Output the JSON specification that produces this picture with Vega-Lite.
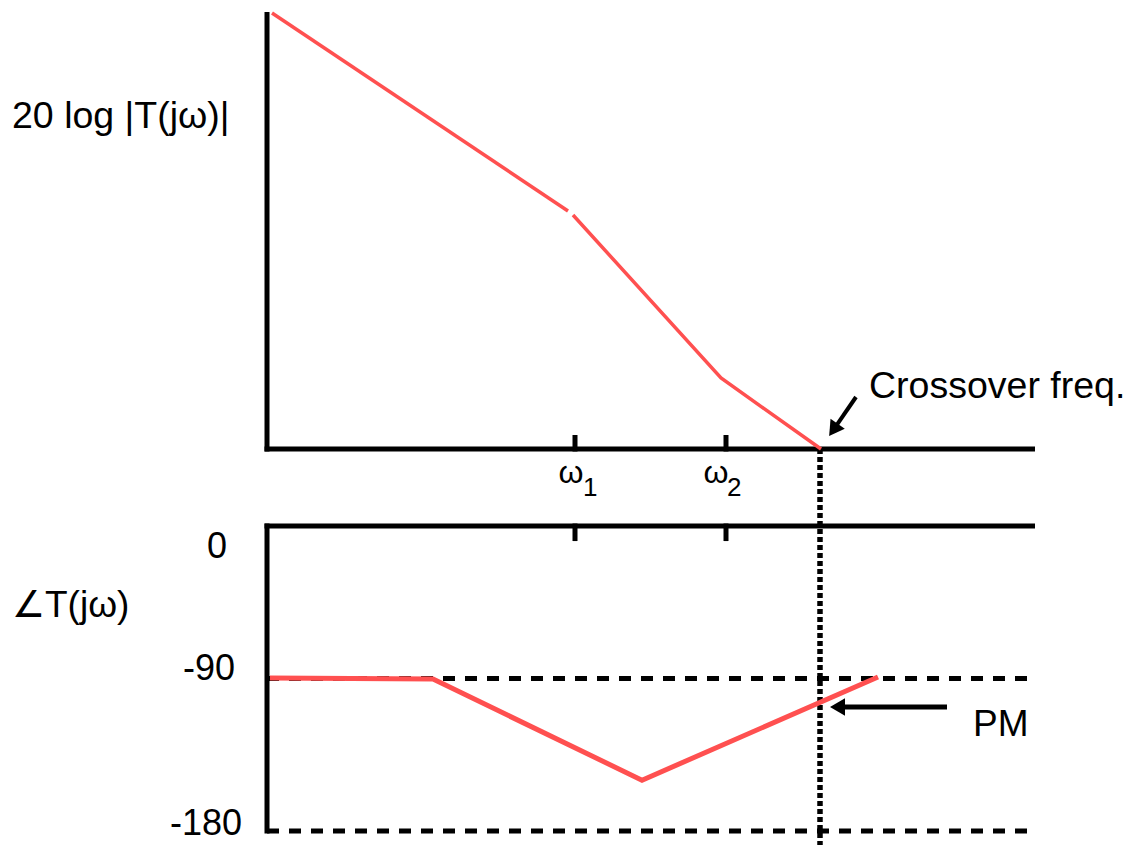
{
  "$schema": "https://vega.github.io/schema/vega-lite/v6.json",
  "width": 1133,
  "height": 848,
  "autosize": {"type": "fit", "contains": "padding"},
  "padding": 0,
  "background": "white",
  "config": {"view": {"stroke": null}, "text": {"font": "Liberation Sans", "baseline": "alphabetic", "color": "black"}},
  "datasets": {
    "magVertical": [
      {"kind": "axis", "w": 0, "db": 0, "db2": 43.45},
      {"kind": "tick", "w": 3.08, "db": 0, "db2": 1.15},
      {"kind": "tick", "w": 4.59, "db": 0, "db2": 1.15},
      {"kind": "crossover", "w": 5.53, "db": 0, "db2": -39.6}
    ],
    "magHorizontal": [
      {"kind": "axis", "w": 0, "w2": 7.655, "db": 0}
    ],
    "magnitude": [
      {"seg": "low", "w": 0.05, "db": 43.6},
      {"seg": "low", "w": 3.01, "db": 23.8},
      {"seg": "mid", "w": 3.06, "db": 23.4},
      {"seg": "mid", "w": 4.54, "db": 7.1},
      {"seg": "mid", "w": 5.54, "db": 0}
    ],
    "magArrow": [
      {"w": 5.89, "w2": 5.664, "db": 5.2, "db2": 1.91}
    ],
    "magText": [
      {"role": "title", "w": -2.55, "db": 32.1, "label": "20 log |T(jω)|"},
      {"role": "callout", "w": 6.02, "db": 5.1, "label": "Crossover freq."},
      {"role": "freq", "w": 3.04, "db": -3.4, "label": "ω"},
      {"role": "freq", "w": 4.49, "db": -3.4, "label": "ω"},
      {"role": "index", "w": 3.16, "db": -4.7, "label": "1"},
      {"role": "index", "w": 4.6, "db": -4.7, "label": "2"}
    ],
    "phaseVertical": [
      {"kind": "axis", "w": 0, "deg": 0, "deg2": -180},
      {"kind": "tick", "w": 3.08, "deg": 0, "deg2": -7.4},
      {"kind": "tick", "w": 4.59, "deg": 0, "deg2": -7.4}
    ],
    "phaseHorizontal": [
      {"kind": "axis", "w": 0, "w2": 7.655, "deg": 0},
      {"kind": "reference", "w": 0, "w2": 7.68, "deg": -90},
      {"kind": "reference", "w": 0, "w2": 7.68, "deg": -180}
    ],
    "phase": [
      {"w": 0.03, "deg": -89.7},
      {"w": 1.66, "deg": -90.3},
      {"w": 3.75, "deg": -150},
      {"w": 6.11, "deg": -89.1}
    ],
    "pmArrow": [
      {"w": 6.8, "w2": 5.705, "deg": -106.8}
    ],
    "phaseText": [
      {"role": "title", "w": -2.55, "deg": -53.7, "label": "∠T(jω)"},
      {"role": "value", "w": -0.4, "deg": -18.9, "label": "0"},
      {"role": "value", "w": -0.32, "deg": -90.9, "label": "-90"},
      {"role": "value", "w": -0.25, "deg": -182.4, "label": "-180"},
      {"role": "callout", "w": 7.06, "deg": -123.9, "label": "PM"}
    ]
  },
  "layer": [
    {
      "encoding": {
        "x": {"field": "w", "type": "quantitative", "scale": {"domain": [-2.67, 8.66], "nice": false, "zero": false}, "axis": null},
        "y": {"field": "db", "type": "quantitative", "scale": {"domain": [-39.9, 44.9], "nice": false, "zero": false}, "axis": null}
      },
      "layer": [
        {
          "data": {"name": "magVertical"},
          "transform": [{"filter": "datum.kind !== 'crossover'"}],
          "mark": {"type": "rule", "color": "black", "strokeWidth": 5, "strokeCap": "square"},
          "encoding": {"y2": {"field": "db2"}}
        },
        {
          "data": {"name": "magVertical"},
          "transform": [{"filter": "datum.kind === 'crossover'"}],
          "mark": {"type": "rule", "color": "black", "strokeWidth": 5.5, "strokeDash": [5, 3]},
          "encoding": {"y2": {"field": "db2"}}
        },
        {
          "data": {"name": "magHorizontal"},
          "mark": {"type": "rule", "color": "black", "strokeWidth": 5, "strokeCap": "square"},
          "encoding": {"x2": {"field": "w2"}}
        },
        {
          "data": {"name": "magnitude"},
          "mark": {"type": "line", "color": "#ff5050", "strokeWidth": 3.5},
          "encoding": {"detail": {"field": "seg"}, "order": {"field": "w", "type": "quantitative"}}
        },
        {
          "data": {"name": "magArrow"},
          "mark": {"type": "rule", "color": "black", "strokeWidth": 4},
          "encoding": {"x2": {"field": "w2"}, "y2": {"field": "db2"}}
        },
        {
          "data": {"name": "magArrow"},
          "mark": {"type": "point", "shape": "triangle-down", "angle": 34.7, "size": 300, "filled": true, "color": "black", "opacity": 1},
          "encoding": {"x": {"field": "w2", "type": "quantitative"}, "y": {"field": "db2", "type": "quantitative"}}
        },
        {
          "data": {"name": "magText"},
          "transform": [{"filter": "datum.role === 'title' || datum.role === 'callout'"}],
          "mark": {"type": "text", "align": "left", "fontSize": 37.5},
          "encoding": {"text": {"field": "label"}}
        },
        {
          "data": {"name": "magText"},
          "transform": [{"filter": "datum.role === 'freq'"}],
          "mark": {"type": "text", "align": "center", "fontSize": 32},
          "encoding": {"text": {"field": "label"}}
        },
        {
          "data": {"name": "magText"},
          "transform": [{"filter": "datum.role === 'index'"}],
          "mark": {"type": "text", "align": "left", "fontSize": 26},
          "encoding": {"text": {"field": "label"}}
        }
      ]
    },
    {
      "encoding": {
        "x": {"field": "w", "type": "quantitative", "scale": {"domain": [-2.67, 8.66], "nice": false, "zero": false}, "axis": null},
        "y": {"field": "deg", "type": "quantitative", "scale": {"domain": [-190.0, 310.4], "nice": false, "zero": false}, "axis": null}
      },
      "layer": [
        {
          "data": {"name": "phaseVertical"},
          "mark": {"type": "rule", "color": "black", "strokeWidth": 5, "strokeCap": "square"},
          "encoding": {"y2": {"field": "deg2"}}
        },
        {
          "data": {"name": "phaseHorizontal"},
          "transform": [{"filter": "datum.kind === 'axis'"}],
          "mark": {"type": "rule", "color": "black", "strokeWidth": 5, "strokeCap": "square"},
          "encoding": {"x2": {"field": "w2"}}
        },
        {
          "data": {"name": "phaseHorizontal"},
          "transform": [{"filter": "datum.kind === 'reference'"}],
          "mark": {"type": "rule", "color": "black", "strokeWidth": 5, "strokeDash": [12, 10]},
          "encoding": {"x2": {"field": "w2"}}
        },
        {
          "data": {"name": "phase"},
          "mark": {"type": "line", "color": "#ff5050", "strokeWidth": 5},
          "encoding": {"order": {"field": "w", "type": "quantitative"}}
        },
        {
          "data": {"name": "pmArrow"},
          "mark": {"type": "rule", "color": "black", "strokeWidth": 5},
          "encoding": {"x2": {"field": "w2"}}
        },
        {
          "data": {"name": "pmArrow"},
          "mark": {"type": "point", "shape": "triangle-left", "size": 300, "filled": true, "color": "black", "opacity": 1},
          "encoding": {"x": {"field": "w2", "type": "quantitative"}}
        },
        {
          "data": {"name": "phaseText"},
          "transform": [{"filter": "datum.role === 'title' || datum.role === 'callout'"}],
          "mark": {"type": "text", "align": "left", "fontSize": 37},
          "encoding": {"text": {"field": "label"}}
        },
        {
          "data": {"name": "phaseText"},
          "transform": [{"filter": "datum.role === 'value'"}],
          "mark": {"type": "text", "align": "right", "fontSize": 36},
          "encoding": {"text": {"field": "label"}}
        }
      ]
    }
  ],
  "resolve": {"scale": {"y": "independent"}}
}
